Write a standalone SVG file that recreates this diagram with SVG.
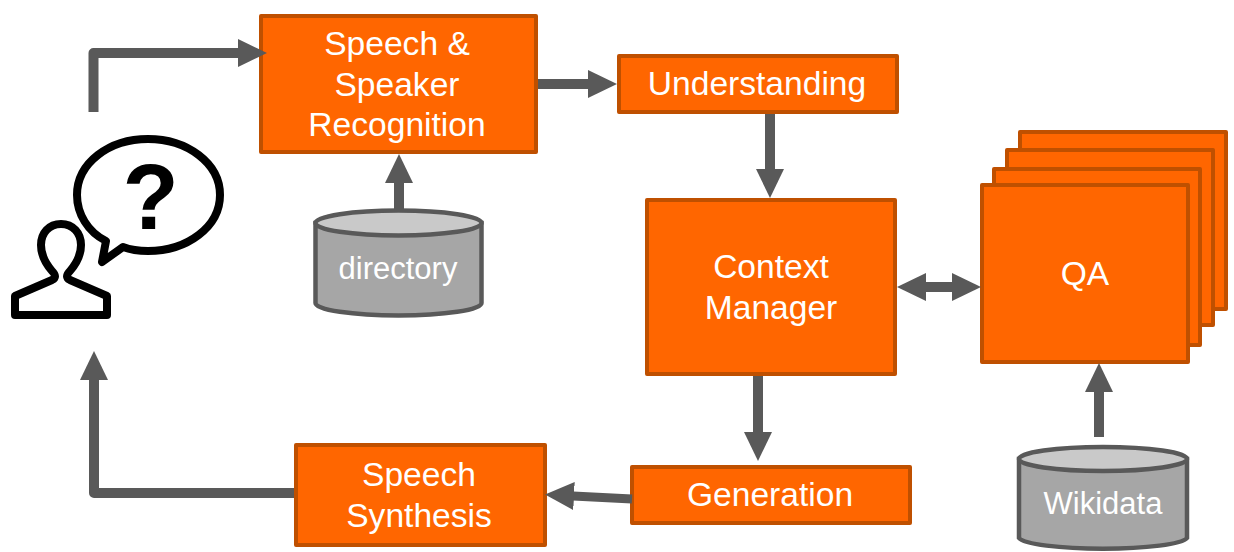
<svg xmlns="http://www.w3.org/2000/svg" width="1234" height="552" viewBox="0 0 1234 552">
<style>
.box{fill:#ff6600;stroke:#bf5000;stroke-width:4;stroke-linejoin:round}
.t{font-family:"Liberation Sans",Arial,sans-serif;font-size:33.600px;fill:#fff;text-anchor:middle}
.d{font-size:31px}
.c{fill:none;stroke:#595959;stroke-width:10;stroke-linejoin:round}
.cyl{fill:#a6a6a6;stroke:#595959;stroke-width:4.500}
.top{fill:#c9c9c9;stroke:#595959;stroke-width:4.500}
.icon{fill:none;stroke:#000;stroke-width:8;stroke-linejoin:round}
</style>
<defs>
<marker id="h" markerUnits="userSpaceOnUse" markerWidth="29" markerHeight="28" refX="1" refY="14" orient="auto-start-reverse" viewBox="0 0 29 28"><path d="M0,0L29,14L0,28Z" fill="#595959"/></marker>
</defs>
<rect width="1234" height="552" fill="#fff"/>
<g id="user">
<path class="icon" d="M61,224C73,224 81,233 81,245C81,256 76,264 70,271C66,275 66,278 70,280L107,296V315H15V296L52,280C56,278 56,275 52,271C46,264 41,256 41,245C41,233 49,224 61,224Z"/>
<path class="icon" d="M106,241C88,232 77,214 77,195C77,163 109,139 148,139C187,139 220,163 220,195C220,227 187,251 148,251C139,251 131,250 123,247L102,262Z" stroke-linecap="round"/>
<text x="150.500" y="229" font-family="'Liberation Sans',Arial,sans-serif" font-size="92" font-weight="700" text-anchor="middle" fill="#000">?</text>
</g>
<g id="speech-recognition">
<rect class="box" x="261" y="16" width="275" height="136"/>
<text class="t" x="397" y="55">Speech &amp;</text>
<text class="t" x="397" y="96">Speaker</text>
<text class="t" x="397" y="136">Recognition</text>
</g>
<g id="understanding">
<rect class="box" x="619" y="56" width="278" height="56"/>
<text class="t" x="757" y="95">Understanding</text>
</g>
<g id="directory">
<path class="cyl" d="M315.500,223V303A83,12.500 0 0 0 481.500,303V223Z"/>
<ellipse class="top" cx="398.500" cy="223" rx="83" ry="12.500"/>
<text class="t d" x="398" y="279">directory</text>
</g>
<g id="context-manager">
<rect class="box" x="647" y="200" width="248" height="174"/>
<text class="t" x="771" y="278">Context</text>
<text class="t" x="771" y="319">Manager</text>
</g>
<g id="qa">
<rect class="box" x="1020" y="132" width="206" height="177"/>
<rect class="box" x="1007" y="150" width="206" height="175"/>
<rect class="box" x="994" y="169" width="206" height="176"/>
<rect class="box" x="982" y="185" width="206" height="177"/>
<text class="t" x="1085" y="285">QA</text>
</g>
<g id="wikidata">
<path class="cyl" d="M1019,459V538A84.500,12 0 0 0 1187,538V459Z"/>
<ellipse class="top" cx="1103" cy="459" rx="84" ry="12"/>
<text class="t d" x="1103" y="514">Wikidata</text>
</g>
<g id="generation">
<rect class="box" x="632" y="467" width="278" height="56"/>
<text class="t" x="770" y="506">Generation</text>
</g>
<g id="speech-synthesis">
<rect class="box" x="296" y="445" width="249" height="100"/>
<text class="t" x="419" y="486">Speech</text>
<text class="t" x="419" y="527">Synthesis</text>
</g>
<g id="connectors">
<path class="c" d="M93.500,112V53H239" marker-end="url(#h)"/>
<path class="c" d="M538,84H589" marker-end="url(#h)"/>
<path class="c" d="M770,114V170" marker-end="url(#h)"/>
<path class="c" d="M399,210V182" marker-end="url(#h)"/>
<path class="c" d="M925,287H953" marker-start="url(#h)" marker-end="url(#h)"/>
<path class="c" d="M758,376V433" marker-end="url(#h)"/>
<path class="c" d="M632,499L573,496" marker-end="url(#h)" style="stroke-width:9"/>
<path class="c" d="M294,493H94V379" marker-end="url(#h)"/>
<path class="c" d="M1099,437V391" marker-end="url(#h)"/>
</g>
</svg>
